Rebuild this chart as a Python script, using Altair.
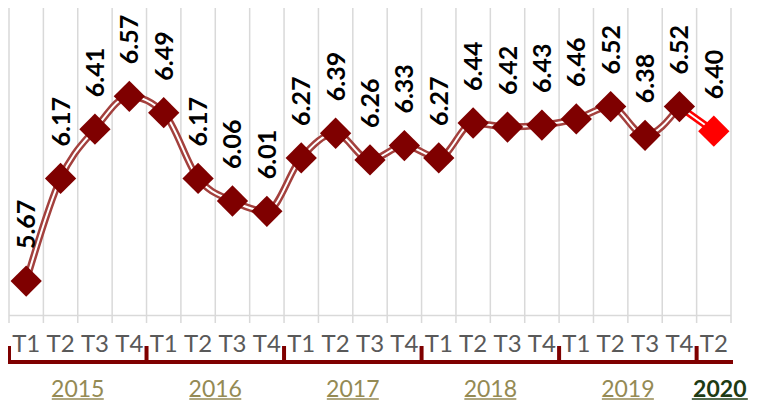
import altair as alt
import pandas as pd

quarters = ["T1", "T2", "T3", "T4"] * 5 + ["T2"]
years = ["2015"] * 4 + ["2016"] * 4 + ["2017"] * 4 + ["2018"] * 4 + ["2019"] * 4 + ["2020"]
values = [5.67, 6.17, 6.41, 6.57, 6.49, 6.17, 6.06, 6.01, 6.27, 6.39, 6.26,
          6.33, 6.27, 6.44, 6.42, 6.43, 6.46, 6.52, 6.38, 6.52, 6.40]

n = len(values)
idx = list(range(n))
df = pd.DataFrame({"idx": idx, "q": quarters, "year": years, "value": values,
                   "label": [f"{v:.2f}" for v in values]})
df["kind"] = ["last" if i == n - 1 else "main" for i in idx]

line_rows = [dict(idx=i, value=values[i], seg="main") for i in range(n - 1)]
line_rows += [dict(idx=i, value=values[i], seg="last") for i in (n - 2, n - 1)]
line_df = pd.DataFrame(line_rows)

grid_df = pd.DataFrame({"b": [i - 0.5 for i in range(n + 1)]})
span_df = pd.DataFrame({"a": [-0.5], "b": [n - 0.5]})

yr = df.groupby("year", sort=True)["idx"].agg(["min", "mean"]).reset_index()
yr["start"] = yr["min"] - 0.5
yr_main = yr[yr["year"] != "2020"]
yr_last = yr[yr["year"] == "2020"]

xs = alt.Scale(domain=[-0.5, n - 0.5], nice=False, zero=False)
ys = alt.Scale(domain=[5.5, 7.0], nice=False, zero=False)
FONT = "Lato"

grid = alt.Chart(grid_df).mark_rule(color="#D9D9D9", strokeWidth=1.5).encode(
    x=alt.X("b:Q", scale=xs, axis=None), y=alt.value(0), y2=alt.value(315))
domain = alt.Chart(span_df).mark_rule(color="#D9D9D9", strokeWidth=1.5).encode(
    x=alt.X("a:Q", scale=xs, axis=None), x2="b:Q", y=alt.value(307.5))

seg_color = alt.Scale(domain=["main", "last"], range=["#A3403D", "#FF0000"])
line_outer = alt.Chart(line_df).mark_line(strokeWidth=7, interpolate="monotone").encode(
    x=alt.X("idx:Q", scale=xs, axis=None), y=alt.Y("value:Q", scale=ys, axis=None),
    color=alt.Color("seg:N", scale=seg_color, legend=None), detail="seg:N")
line_inner = alt.Chart(line_df).mark_line(strokeWidth=2, color="white", interpolate="monotone").encode(
    x=alt.X("idx:Q", scale=xs, axis=None), y=alt.Y("value:Q", scale=ys, axis=None), detail="seg:N")

pts = alt.Chart(df).mark_point(shape="diamond", filled=True, size=980, opacity=1).encode(
    x=alt.X("idx:Q", scale=xs, axis=None), y=alt.Y("value:Q", scale=ys, axis=None),
    color=alt.Color("kind:N", scale=alt.Scale(domain=["main", "last"], range=["#7F0000", "#FF0000"]), legend=None))

labels = alt.Chart(df).mark_text(angle=270, align="left", baseline="middle", dx=32, dy=1,
                                 font=FONT, fontSize=25, fontWeight="bold", color="black").encode(
    x=alt.X("idx:Q", scale=xs, axis=None), y=alt.Y("value:Q", scale=ys, axis=None), text="label:N")

qlabels = alt.Chart(df).mark_text(baseline="alphabetic", font=FONT, fontSize=24, color="#595959").encode(
    x=alt.X("idx:Q", scale=xs, axis=None), y=alt.value(344), text="q:N")

bracket_h = alt.Chart(span_df).mark_rule(color="#7F0000", strokeWidth=4, xOffset=-1, x2Offset=2).encode(
    x=alt.X("a:Q", scale=xs, axis=None), x2="b:Q", y=alt.value(354))
bracket_v = alt.Chart(yr).mark_rule(color="#7F0000", strokeWidth=4).encode(
    x=alt.X("start:Q", scale=xs, axis=None), y=alt.value(338), y2=alt.value(356))

ytext = alt.Chart(yr_main).mark_text(baseline="alphabetic", font=FONT, fontSize=23, color="#948A54").encode(
    x=alt.X("mean:Q", scale=xs, axis=None), y=alt.value(389), text="year:N")
yline = alt.Chart(yr_main).mark_rule(color="#948A54", strokeWidth=1.5, xOffset=-26, x2Offset=26).encode(
    x=alt.X("mean:Q", scale=xs, axis=None), x2="mean:Q", y=alt.value(391))
ytext2 = alt.Chart(yr_last).mark_text(baseline="alphabetic", font=FONT, fontSize=23, fontWeight="bold",
                                      color="#1E3B14", dx=6).encode(
    x=alt.X("mean:Q", scale=xs, axis=None), y=alt.value(389), text="year:N")
yline2 = alt.Chart(yr_last).mark_rule(color="#1E3B14", strokeWidth=1.5, xOffset=-22, x2Offset=34).encode(
    x=alt.X("mean:Q", scale=xs, axis=None), x2="mean:Q", y=alt.value(391))

chart = alt.layer(grid, domain, line_outer, line_inner, pts, labels, qlabels,
                  bracket_h, bracket_v, ytext, yline, ytext2, yline2).properties(
    width=722, height=308,
    autosize=alt.AutoSizeParams(type="none"),
    padding={"left": 1, "top": 0, "right": 20, "bottom": 85},
).configure_view(stroke=None).resolve_scale(color="independent")

chart.save("out.html", embed_options={"renderer": "svg", "actions": False})
